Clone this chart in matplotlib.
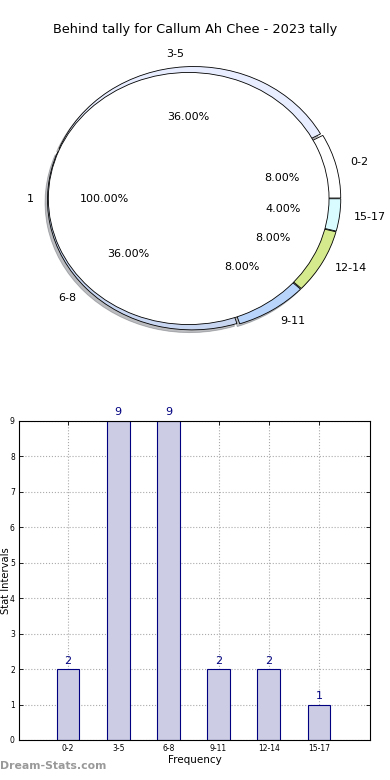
import matplotlib
matplotlib.use("Agg")
import matplotlib.pyplot as plt

title = "Behind tally for Callum Ah Chee - 2023 tally"
categories = ["0-2", "3-5", "6-8", "9-11", "12-14", "15-17"]
counts = [2, 9, 9, 2, 2, 1]
slice_colors = ["#ffffff", "#e8eeff", "#c8d6f2", "#b8d4fa", "#d4ea8c", "#d8fcff"]
inner_labels = ["1"]
inner_values = [1]

fig = plt.figure(figsize=(3.9, 7.8), dpi=100)
fig.patch.set_facecolor("white")

# ---- Pie ----
axp = fig.add_axes([0.026, 0.534, 0.942, 0.423])
wedges, texts, autotexts = axp.pie(
    counts, labels=categories, colors=slice_colors, explode=[0.015] * len(counts),
    radius=0.985, autopct="%.2f%%", pctdistance=0.61, labeldistance=1.1, startangle=0,
    shadow=dict(ox=-0.012, oy=-0.015, alpha=0.35),
    wedgeprops=dict(edgecolor="black", linewidth=0.6),
    textprops=dict(fontsize=8))
w2, t2, a2 = axp.pie(
    inner_values, labels=inner_labels, colors=["white"], explode=[0.035],
    radius=0.955, autopct="%.2f%%", pctdistance=0.6, labeldistance=1.1,
    startangle=0, shadow=False, wedgeprops=dict(edgecolor="black", linewidth=0.6),
    textprops=dict(fontsize=8))
axp.set_aspect("auto")
axp.set_xlim(-1.25, 1.25)
axp.set_ylim(-1.25, 1.25)
fig.text(0.4995, 1 - 30 / 780, title, fontsize=9.3, ha="center", va="center")

# ---- Bar ----
axb = fig.add_axes([0.0487, 0.0513, 0.9, 0.409])
xs = list(range(len(categories)))
bars = axb.bar(xs, counts, width=0.45, color="#ccccE5", edgecolor="#000080", linewidth=0.8, zorder=2)
for x, v in zip(xs, counts):
    axb.text(x, v + 0.1, str(v), ha="center", va="bottom", color="#000080", fontsize=8)
axb.set_xlim(-0.98, 6.02)
axb.set_ylim(0, 9)
axb.set_xticks(xs)
axb.set_xticklabels(categories, fontsize=5.5)
axb.set_yticks(range(10))
axb.tick_params(axis="y", labelsize=5.5)
axb.tick_params(direction="in", top=True, right=True, length=3, width=0.6, pad=3)
axb.grid(True, linestyle=":", color="#aaaaaa", linewidth=0.8, zorder=0)
axb.set_axisbelow(True)
axb.set_xlabel("Frequency", fontsize=7.5, labelpad=1)
axb.set_ylabel("Stat Intervals", fontsize=7.2, va="center")
axb.yaxis.set_label_coords(-0.037, 0.5)
for s in axb.spines.values():
    s.set_linewidth(0.8)

fig.text(0.0, 0.0115, "Dream-Stats.com", fontsize=7.8, color="#999999", fontweight="bold", ha="left", va="bottom")

fig.savefig("out.png", dpi=100)
